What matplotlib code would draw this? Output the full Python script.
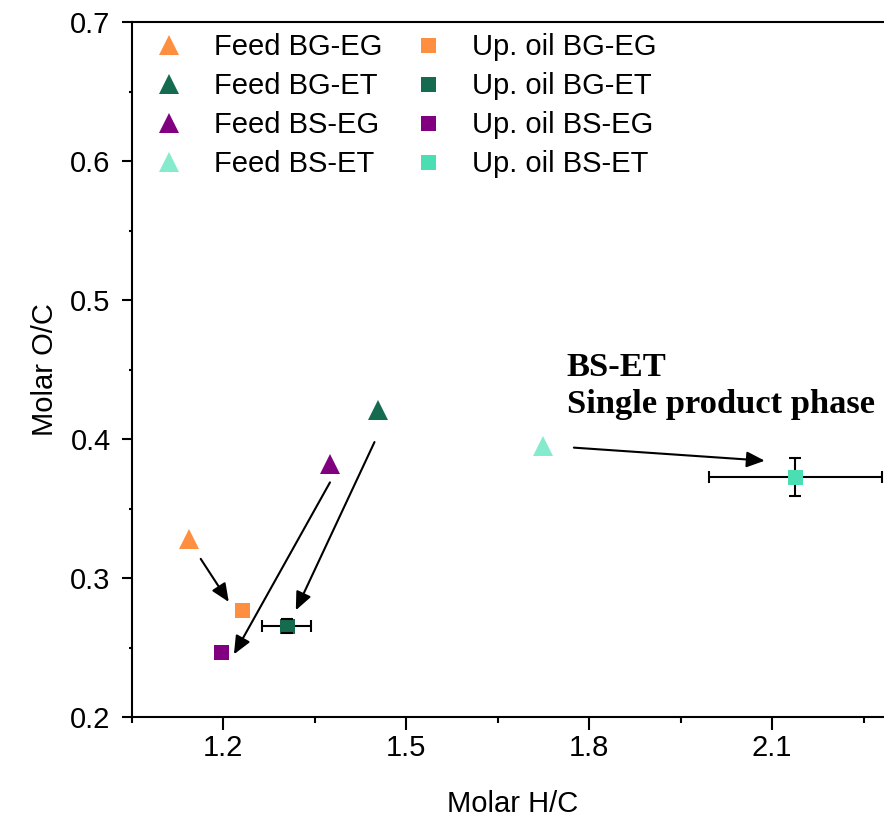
import numpy as np
import matplotlib
matplotlib.use('Agg')
from matplotlib import pyplot as plt
from matplotlib.ticker import MultipleLocator

plt.rcParams['font.family'] = ['Liberation Sans', 'DejaVu Sans']

# feed (triangles) and upgraded oil (squares), molar H/C and O/C
names = ['BG-EG', 'BG-ET', 'BS-EG', 'BS-ET']
feed_hc = [1.143, 1.453, 1.375, 1.724]
feed_oc = [0.328, 0.421, 0.382, 0.395]
oil_hc = [1.230, 1.304, 1.196, 2.138]
oil_oc = [0.277, 0.266, 0.247, 0.373]
oil_hc_err = [0.0, 0.0405, 0.0, 0.142]
oil_oc_err = [0.0, 0.005, 0.0, 0.0135]
feed_colors = ['#FF8F40', '#146B50', '#800080', '#86EBCC']
oil_colors = ['#FF8F40', '#146B50', '#800080', '#4ADEB2']

# arrows: (start H/C, start O/C, end H/C, end O/C)
arrows = [(1.163, 0.314, 1.209, 0.283),
          (1.375, 0.369, 1.2175, 0.2453),
          (1.448, 0.398, 1.319, 0.277),
          (1.775, 0.394, 2.088, 0.3846)]

fig = plt.figure(figsize=(8.84, 8.19), dpi=100)
ax = fig.add_axes([131.8/884, (819-717.3)/819, (894-131.8)/884, (717.3-22.3)/819])

for i in range(4):
    ax.plot(feed_hc[i], feed_oc[i], '^', ms=14, color=feed_colors[i], mew=0, zorder=3,
            label='Feed ' + names[i])
for i in range(4):
    ax.plot(oil_hc[i], oil_oc[i], 's', ms=10.8, color=oil_colors[i], mew=0, zorder=3,
            label='Up. oil ' + names[i])
    if oil_hc_err[i] > 0:
        _, caps, _ = ax.errorbar(oil_hc[i], oil_oc[i], xerr=oil_hc_err[i], yerr=oil_oc_err[i],
                                 fmt='none', ecolor='black', elinewidth=1.5, capsize=4.5,
                                 capthick=1.5, zorder=2)
        for c in caps:
            c.set_zorder(4)

for x0, y0, x1, y1 in arrows:
    ax.annotate('', xy=(x1, y1), xytext=(x0, y0),
                arrowprops=dict(arrowstyle='-|>,head_length=0.55,head_width=0.24',
                                color='black', lw=1.5, shrinkA=0, shrinkB=0,
                                mutation_scale=20))

ax.text(1.763, 0.4455, 'BS-ET', fontsize=24.8, fontweight='bold',
        family='Liberation Serif', va='baseline')
ax.text(1.763, 0.4187, 'Single product phase', fontsize=24.8, fontweight='bold',
        family='Liberation Serif', va='baseline')

ax.set_xlim(1.05, 2.3)
ax.set_ylim(0.2, 0.7)
ax.xaxis.set_major_locator(MultipleLocator(0.3))
ax.xaxis.set_minor_locator(MultipleLocator(0.15))
ax.yaxis.set_major_locator(MultipleLocator(0.1))
ax.yaxis.set_minor_locator(MultipleLocator(0.05))
ax.set_xticks([1.2, 1.5, 1.8, 2.1])
ax.set_xticklabels(['1.2', '1.5', '1.8', '2.1'])

ax.spines['right'].set_visible(False)
for s in ['left', 'bottom', 'top']:
    ax.spines[s].set_linewidth(1.5)
ax.tick_params(axis='both', which='both', direction='out', width=1.5, labelsize=21)
ax.tick_params(axis='x', which='major', length=9, pad=3)
ax.tick_params(axis='x', which='minor', length=4.3)
ax.tick_params(axis='y', which='major', length=7.2, pad=8)
ax.tick_params(axis='y', which='minor', length=2.4)

ax.set_xlabel('Molar H/C', fontsize=21, labelpad=20)
ax.set_ylabel('Molar O/C', fontsize=21, labelpad=8)

ax.legend(loc='upper left', bbox_to_anchor=(0.0297, 0.985), ncol=2, frameon=False,
          fontsize=21, handlelength=1.0, handletextpad=1.04, columnspacing=1.05,
          labelspacing=0.38, borderpad=0, borderaxespad=0)

fig.savefig('out.png', dpi=100)
